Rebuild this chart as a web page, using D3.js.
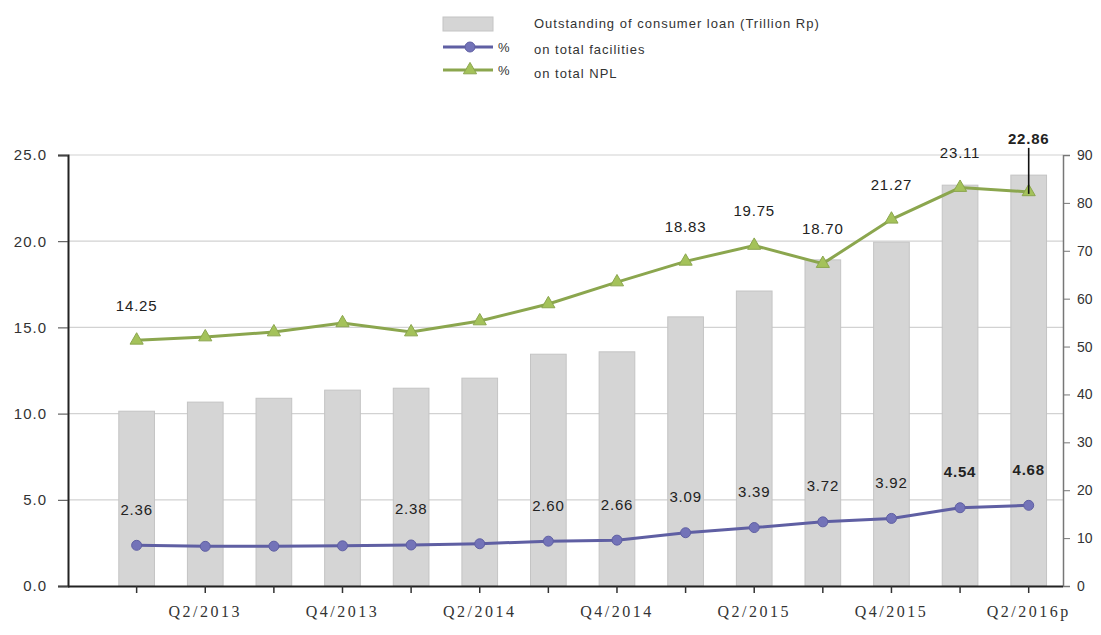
<!DOCTYPE html>
<html>
<head>
<meta charset="utf-8">
<script src="https://cdn.jsdelivr.net/npm/d3@7"></script>
<style>
  html, body { margin: 0; padding: 0; background: #fff; }
  svg { display: block; }
</style>
</head>
<body>
<svg id="chart" width="1101" height="635"></svg>
<script>
// Quarters on the category axis (every other one is labelled)
const quarters = ["Q1/2013", "Q2/2013", "Q3/2013", "Q4/2013", "Q1/2014", "Q2/2014", "Q3/2014",
                  "Q4/2014", "Q1/2015", "Q2/2015", "Q3/2015", "Q4/2015", "Q1/2016", "Q2/2016p"];
const tickQuarters = ["Q2/2013", "Q4/2013", "Q2/2014", "Q4/2014", "Q2/2015", "Q4/2015", "Q2/2016p"];

// Outstanding amount (bars, right axis)
const outstanding = [36.5, 38.4, 39.2, 40.9, 41.3, 43.4, 48.4, 48.9, 56.2, 61.6, 68.1, 71.8, 83.7, 85.8];
// % on total facilities (left axis)
const pctFacilities = [2.36, 2.30, 2.31, 2.33, 2.38, 2.45, 2.60, 2.66, 3.09, 3.39, 3.72, 3.92, 4.54, 4.68];
// % on total NPL (left axis)
const pctNPL = [14.25, 14.44, 14.73, 15.26, 14.73, 15.37, 16.36, 17.63, 18.83, 19.75, 18.70, 21.27, 23.11, 22.86];

// Which points carry a value label
const facilitiesLabelled = [0, 4, 6, 7, 8, 9, 10, 11, 12, 13];
const nplLabelled = [0, 8, 9, 10, 11, 12, 13];

const leftTicks = [0, 5, 10, 15, 20, 25];
const rightTicks = [0, 10, 20, 30, 40, 50, 60, 70, 80, 90];

const legendLabels = ["Outstanding of consumer loan (Trillion Rp)", "on total facilities", "on total NPL"];

const svg = d3.select("#chart");
const margin = { top: 155, right: 38, bottom: 49, left: 68 };
const W = 1101, H = 635;
const innerW = W - margin.left - margin.right;
const innerH = H - margin.top - margin.bottom;

const g = svg.append("g").attr("transform", `translate(${margin.left},${margin.top})`);

const x = d3.scaleBand().domain(quarters).range([innerW * 0.0345, innerW]).paddingInner(0.48).paddingOuter(0.24);
const yL = d3.scaleLinear().domain([0, 25]).range([innerH, 0]);
const yR = d3.scaleLinear().domain([0, 90]).range([innerH, 0]);
const cx = q => x(q) + x.bandwidth() / 2;

const blue = "#5f5fa3", blueFill = "#7373b8";
const green = "#8ba64e", greenFill = "#a4c25a";
const sans = "Liberation Sans, Arial, sans-serif";
const serif = "Liberation Serif, Times New Roman, serif";

// horizontal gridlines
g.append("g").selectAll("line").data(leftTicks.filter(d => d > 0)).join("line")
  .attr("x1", 0).attr("x2", innerW)
  .attr("y1", d => yL(d)).attr("y2", d => yL(d))
  .attr("stroke", "#d2d2d2").attr("stroke-width", 1.2);

// bars
g.append("g").selectAll("rect").data(quarters).join("rect")
  .attr("x", q => x(q))
  .attr("width", x.bandwidth())
  .attr("y", (q, i) => yR(outstanding[i]))
  .attr("height", (q, i) => innerH - yR(outstanding[i]))
  .attr("fill", "#d5d5d5")
  .attr("stroke", "#c4c4c4")
  .attr("stroke-width", 1);

// left axis
const axL = g.append("g")
  .call(d3.axisLeft(yL).tickValues(leftTicks).tickFormat(d3.format(".1f")).tickSize(10).tickPadding(11));
axL.select(".domain").attr("stroke", "#222").attr("stroke-width", 2);
axL.selectAll(".tick line").attr("stroke", "#444");
axL.selectAll("text").attr("font-family", sans).attr("font-size", 15)
  .attr("letter-spacing", 1).attr("fill", "#333");

// right axis
const axR = g.append("g").attr("transform", `translate(${innerW},0)`)
  .call(d3.axisRight(yR).tickValues(rightTicks).tickSize(7).tickPadding(7));
axR.select(".domain").attr("stroke", "#777").attr("stroke-width", 1.5);
axR.selectAll(".tick line").attr("stroke", "#777");
axR.selectAll("text").attr("font-family", sans).attr("font-size", 14)
  .attr("fill", "#333");

// bottom axis
const axB = g.append("g").attr("transform", `translate(0,${innerH})`)
  .call(d3.axisBottom(x).tickSize(7).tickPadding(13).tickFormat(q => tickQuarters.includes(q) ? q : ""));
axB.select(".domain").attr("d", `M0,0.5H${innerW}`).attr("stroke", "#222").attr("stroke-width", 2);
axB.selectAll(".tick line").attr("stroke", "#333").attr("stroke-width", 1.5);
axB.selectAll("text").attr("font-family", serif).attr("font-size", 16)
  .attr("letter-spacing", 2.5).attr("fill", "#333");

// lines
const lineL = d3.line().x((d, i) => cx(quarters[i])).y(d => yL(d));

g.append("path").datum(pctNPL).attr("d", lineL)
  .attr("fill", "none").attr("stroke", green).attr("stroke-width", 3);
g.append("path").datum(pctFacilities).attr("d", lineL)
  .attr("fill", "none").attr("stroke", blue).attr("stroke-width", 3);

// markers
const tri = d3.symbol().type(d3.symbolTriangle).size(75);
g.append("g").selectAll("path").data(pctNPL).join("path")
  .attr("d", tri)
  .attr("transform", (d, i) => `translate(${cx(quarters[i])},${yL(d)})`)
  .attr("fill", greenFill).attr("stroke", green).attr("stroke-width", 1);

g.append("g").selectAll("circle").data(pctFacilities).join("circle")
  .attr("cx", (d, i) => cx(quarters[i]))
  .attr("cy", d => yL(d))
  .attr("r", 5)
  .attr("fill", blueFill).attr("stroke", blue).attr("stroke-width", 1);

// value labels
g.append("g").selectAll("text").data(nplLabelled).join("text")
  .attr("x", i => cx(quarters[i]))
  .attr("y", i => yL(pctNPL[i]) - (i === 13 ? 53 : 35))
  .attr("text-anchor", "middle").attr("dominant-baseline", "central")
  .attr("font-family", sans).attr("font-size", 15).attr("letter-spacing", 0.8)
  .attr("font-weight", i => i === 13 ? "bold" : "normal")
  .attr("fill", "#222")
  .text(i => pctNPL[i].toFixed(2));

// leader line for the last NPL label
{
  const i = 13;
  g.append("line")
    .attr("x1", cx(quarters[i])).attr("x2", cx(quarters[i]))
    .attr("y1", yL(pctNPL[i]) - 44).attr("y2", yL(pctNPL[i]) + 2)
    .attr("stroke", "#111").attr("stroke-width", 1.6);
}

g.append("g").selectAll("text").data(facilitiesLabelled).join("text")
  .attr("x", i => cx(quarters[i]))
  .attr("y", i => yL(pctFacilities[i]) - 36)
  .attr("text-anchor", "middle").attr("dominant-baseline", "central")
  .attr("font-family", sans).attr("font-size", 15).attr("letter-spacing", 0.8)
  .attr("font-weight", i => i >= 12 ? "bold" : "normal")
  .attr("fill", "#222")
  .text(i => pctFacilities[i].toFixed(2));

// legend
const lg = svg.append("g").attr("font-family", sans).attr("font-size", 13)
  .attr("letter-spacing", 1).attr("fill", "#333");
lg.append("rect").attr("x", 443).attr("y", 17).attr("width", 50).attr("height", 14)
  .attr("fill", "#d5d5d5").attr("stroke", "#c4c4c4");
lg.append("text").attr("x", 534).attr("y", 23).attr("dominant-baseline", "central").text(legendLabels[0]);

lg.append("line").attr("x1", 443).attr("x2", 493).attr("y1", 47).attr("y2", 47)
  .attr("stroke", blue).attr("stroke-width", 3);
lg.append("circle").attr("cx", 470).attr("cy", 47).attr("r", 5).attr("fill", blueFill).attr("stroke", blue);
lg.append("text").attr("x", 498).attr("y", 47).attr("dominant-baseline", "central").text("%");
lg.append("text").attr("x", 534).attr("y", 49).attr("dominant-baseline", "central").text(legendLabels[1]);

lg.append("line").attr("x1", 443).attr("x2", 493).attr("y1", 70).attr("y2", 70)
  .attr("stroke", green).attr("stroke-width", 3);
lg.append("path").attr("d", tri).attr("transform", "translate(470,70)")
  .attr("fill", greenFill).attr("stroke", green);
lg.append("text").attr("x", 498).attr("y", 70).attr("dominant-baseline", "central").text("%");
lg.append("text").attr("x", 534).attr("y", 73).attr("dominant-baseline", "central").text(legendLabels[2]);
</script>
</body>
</html>
